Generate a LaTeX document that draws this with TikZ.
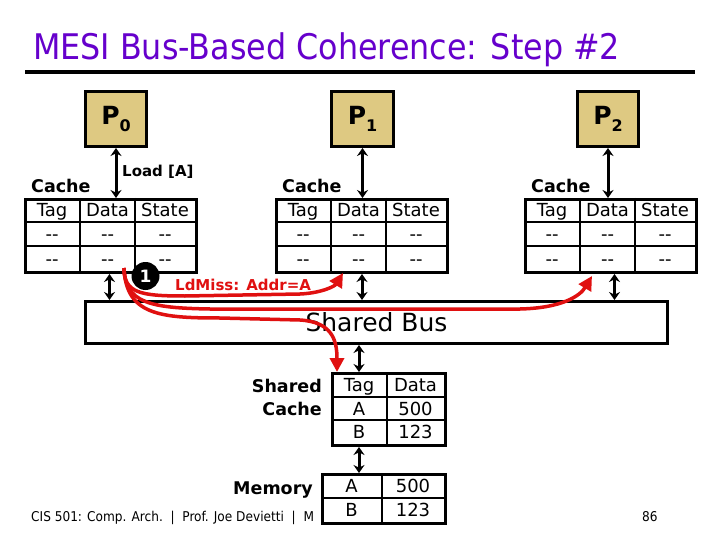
\documentclass[tikz,border=0pt]{standalone}
\usepackage{fontspec}
\setmainfont{DejaVu Sans}
\newfontfamily\condf{DejaVu Sans Condensed}
\usetikzlibrary{arrows.meta}
\definecolor{ttl}{RGB}{102,0,204}
\definecolor{ptan}{RGB}{222,201,130}
\definecolor{mred}{RGB}{224,16,16}
\newcommand\dd{-{}-}
\newcommand\psub[2]{#1\raisebox{-7pt}{\fontsize{16}{16}\selectfont #2}}
\tikzset{
 tbl/.style={draw, line width=3pt, anchor=north west, inner sep=0, fill=white},
 gridln/.style={line width=2.6pt},
 cell/.style={font=\fontsize{18}{18}\selectfont, inner sep=0, text height=13pt, text depth=0pt},
 proc/.style={draw, line width=3pt, fill=ptan, minimum height=55pt, anchor=north west, inner sep=0, font=\fontsize{25}{25}\selectfont\bfseries},
 dbl/.style={line width=3pt, {Stealth[length=8pt,width=11pt]}-{Stealth[length=8pt,width=11pt]}},
 miss/.style={draw=mred, line width=3.5pt, -{Triangle[length=14pt,width=14pt]}},
 blab/.style={font=\fontsize{17.5}{18}\selectfont\bfseries, inner sep=0}
}
\newcommand\mkcache[2]{%
 \node[tbl, minimum width=171pt, minimum height=73pt] (#1) at (#2,198) {};
 \draw[gridln] (#2+56,198) -- (#2+56,271) (#2+111,198) -- (#2+111,271)
   (#2,222) -- (#2+171,222) (#2,246) -- (#2+171,246);
 \node[blab, anchor=base west] (#1-lab) at (#2+7,193) {Cache};
 \node[cell] (#1-h1) at (#2+28,210) {Tag};
 \node[cell] (#1-h2) at (#2+83.5,210) {Data};
 \node[cell] (#1-h3) at (#2+141,210) {State};
 \node[cell] (#1-a1) at (#2+28,234) {\dd};
 \node[cell] (#1-a2) at (#2+83.5,234) {\dd};
 \node[cell] (#1-a3) at (#2+141,234) {\dd};
 \node[cell] (#1-b1) at (#2+28,258.5) {\dd};
 \node[cell] (#1-b2) at (#2+83.5,258.5) {\dd};
 \node[cell] (#1-b3) at (#2+141,258.5) {\dd};
}
\begin{document}
\begin{tikzpicture}[x=1pt,y=-1pt]
\useasboundingbox (0,0) rectangle (720,540);
\fill[white] (0,0) rectangle (720,540);
% title
\node[anchor=base west, text=ttl, font=\condf\fontsize{35.3}{35}\selectfont, inner sep=0] (title) at (33,60) {MESI Bus-Based Coherence: Step \#2};
\draw[line width=3.5pt] (25,72) -- (695,72);
% processors
\node[proc, minimum width=61pt] (p0) at (84,90) {\psub{P}{0}};
\node[proc, minimum width=62pt] (p1) at (330,90) {\psub{P}{1}};
\node[proc, minimum width=61pt] (p2) at (576,90) {\psub{P}{2}};
% caches
\mkcache{c0}{24}
\mkcache{c1}{275}
\mkcache{c2}{524}
\node[anchor=base west, font=\fontsize{15}{15}\selectfont\bfseries, inner sep=0] (load) at (122,177) {Load [A]};
\draw[dbl] (p0.south) -- (p0.south |- c0.north);
\draw[dbl] (p1.south) -- (p1.south |- c1.north);
\draw[dbl] (p2.south) -- (p2.south |- c2.north);
% bus
\node[draw, line width=3pt, minimum width=582pt, minimum height=42pt, anchor=north west, inner sep=0, font=\fontsize{25}{25}\selectfont, text height=18pt, text depth=0pt] (bus) at (84,300) {Shared Bus};
\draw[dbl] ([xshift=-1.5pt]c0.south) -- ([xshift=-1.5pt]c0.south |- bus.north);
\draw[dbl] (c1.south) -- (c1.south |- bus.north);
\draw[dbl] ([xshift=3.5pt]c2.south) -- ([xshift=3.5pt]c2.south |- bus.north);
% footer
\node[anchor=base west, font=\condf\fontsize{13.5}{13.5}\selectfont, inner sep=0] (foot) at (31,521) {CIS 501: Comp. Arch.\ \ |\ \ Prof. Joe Devietti\ \ |\ \ M};
\node[anchor=base west, font=\condf\fontsize{13.5}{13.5}\selectfont, inner sep=0] (pg) at (642,521) {86};
% shared cache
\node[tbl, minimum width=113pt, minimum height=72pt] (sc) at (331,372) {};
\draw[gridln] (387,372) -- (387,444) (331,397) -- (444,397) (331,420) -- (444,420);
\node[cell] (sc1) at (359,384.5) {Tag};
\node[cell] (sc2) at (415.5,384.5) {Data};
\node[cell] (sc3) at (359,408.5) {A};
\node[cell] (sc4) at (415.5,408.5) {500};
\node[cell] (sc5) at (359,432) {B};
\node[cell] (sc6) at (415.5,432) {123};
\node[blab, anchor=base east] (sclab1) at (322,392) {Shared};
\node[blab, anchor=base east] (sclab2) at (322,415) {Cache};
% memory
\node[tbl, minimum width=123pt, minimum height=49pt] (mem) at (321,473) {};
\draw[gridln] (382,473) -- (382,522) (321,498) -- (444,498);
\node[cell] (m1) at (351.5,485.5) {A};
\node[cell] (m2) at (413,485.5) {500};
\node[cell] (m3) at (351.5,510) {B};
\node[cell] (m4) at (413,510) {123};
\node[blab, anchor=base east] (memlab) at (313,494) {Memory};
\draw[dbl] (sc1 |- bus.south) -- (sc1 |- sc.north);
\draw[dbl] (sc1 |- sc.south) -- (sc1 |- mem.north);
% red miss arrows
\coordinate (ms) at (124,268);
\coordinate (t1) at (343,273);
\coordinate (t2) at (592,276);
\coordinate (t3) at (337,372);
\draw[miss] (ms) .. controls (124,293) and (140,296) .. (185,296) -- (300,294) .. controls (322,293) and (335,286) .. (t1);
\draw[miss] (ms) .. controls (125,303) and (150,308) .. (210,309) -- (520,309) .. controls (562,308) and (580,296) .. (t2);
\draw[miss] (ms) .. controls (126,315) and (160,318) .. (220,318) -- (300,320) .. controls (332,322) and (337,340) .. (t3);
\node[anchor=base west, text=mred, font=\fontsize{15}{15}\selectfont\bfseries, inner sep=0] (ldm) at (175,290) {LdMiss: Addr=A};
\node[circle, fill=black, minimum size=28pt, inner sep=0, text=white, font=\fontsize{17}{17}\selectfont\bfseries] (one) at (145.5,276) {1};
\end{tikzpicture}
\end{document}
